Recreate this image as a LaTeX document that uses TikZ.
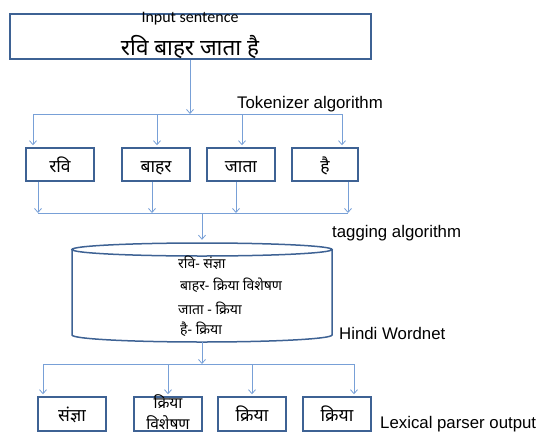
\documentclass[tikz,border=0pt]{standalone}
\usepackage{fontspec}
\setmainfont{Liberation Sans}
\newfontfamily\deva[Script=Devanagari]{Noto Sans}
\newfontfamily\calib{Carlito}
\usetikzlibrary{arrows.meta}
\definecolor{boxblue}{RGB}{62,98,148}
\definecolor{lineblue}{RGB}{120,160,215}
\begin{document}
\begin{tikzpicture}[x=1pt,y=-1pt,
  tbox/.style={draw=boxblue, line width=1.5pt, inner sep=0pt, minimum height=33pt, minimum width=68pt, text height=16pt, text depth=0pt, font=\deva\fontsize{17.5}{20}\selectfont},
  conn/.style={draw=lineblue, line width=0.8pt},
  arr/.style={conn, -{Straight Barb[length=4pt,width=7pt]}},
  lab/.style={anchor=west, inner sep=0pt, font=\fontsize{16.8}{19}\selectfont},
  wnl/.style={anchor=west, inner sep=0pt, font=\deva\fontsize{14}{16}\selectfont},
  cylb/.style={draw=boxblue, line width=1.5pt}]
\useasboundingbox (0,0) rectangle (543,434);
% top box
\node[draw=boxblue, line width=1.5pt, minimum width=361pt, minimum height=45pt, inner sep=0pt] (top) at (190.5,36.5) {};
\node[inner sep=0pt, font=\calib\fontsize{16}{18}\selectfont] (insent) at (190,19) {Input sentence};
\node[inner sep=0pt, anchor=base, font=\deva\fontsize{22.5}{26}\selectfont] (sent) at (190,55) {रवि बाहर जाता है};
% tokens
\node[tbox] (t1) at (60,164.5) {रवि};
\node[tbox] (t2) at (156,164.5) {बाहर};
\node[tbox] (t3) at (241,164.5) {जाता};
\node[tbox, minimum width=66pt] (t4) at (325,164.5) {है};
\node[lab] (tok) at (237,104) {Tokenizer algorithm};
% bus A
\coordinate (am) at (190,114);
\coordinate (a1) at (33,114);
\coordinate (a2) at (157,114);
\coordinate (a3) at (242,114);
\coordinate (a4) at (342,114);
\draw[arr] (top.south -| am) -- (am);
\draw[conn] (a1) -- (a4);
\draw[arr, shorten >=2pt] (a1) -- (t1.north -| a1);
\draw[arr, shorten >=2pt] (a2) -- (t2.north -| a2);
\draw[arr, shorten >=2pt] (a3) -- (t3.north -| a3);
\draw[arr, shorten >=2pt] (a4) -- (t4.north -| a4);
% bus B
\coordinate (c1) at (38,213);
\coordinate (c2) at (152,213);
\coordinate (c3) at (236,213);
\coordinate (c4) at (348,213);
\coordinate (cm) at (202,213);
\draw[arr] (t1.south -| c1) -- (c1);
\draw[arr] (t2.south -| c2) -- (c2);
\draw[arr] (t3.south -| c3) -- (c3);
\draw[arr] (t4.south -| c4) -- (c4);
\draw[conn] (c1) -- (c4);
% wordnet cylinder
\node[minimum width=260pt, minimum height=99pt, inner sep=0pt] (wn) at (202,292.5) {};
\draw[cylb] (72,249.5) -- (72,335) arc[start angle=180, end angle=360, x radius=130pt, y radius=7pt] -- (332,249.5);
\draw[cylb] (202,249.5) ellipse [x radius=130pt, y radius=6.5pt];
\draw[arr, shorten >=3pt] (cm) -- (wn.north);
\node[wnl] (w1) at (178,263) {रवि- संज्ञा};
\node[wnl] (w2) at (180,285) {बाहर- क्रिया विशेषण};
\node[wnl] (w3) at (178,308) {जाता - क्रिया};
\node[wnl] (w4) at (180,329) {है- क्रिया};
\node[lab] (tag) at (332,233) {tagging algorithm};
\node[lab] (hw) at (339,333) {Hindi Wordnet};
% bus C
\coordinate (dm) at (202,364);
\coordinate (d1) at (43,364);
\coordinate (d2) at (168,364);
\coordinate (d3) at (252,364);
\coordinate (d4) at (354,364);
\draw[arr] (wn.south) -- (dm);
\draw[conn] (d1) -- (d4);
% outputs
\node[tbox, minimum height=34pt, text height=15pt] (b1) at (72,414) {संज्ञा};
\node[tbox, minimum height=34pt] (b2) at (168,414) {};
\node[inner sep=0pt, font=\deva\fontsize{15.5}{18}\selectfont] (b2a) at (168,402) {क्रिया};
\node[inner sep=0pt, anchor=base, font=\deva\fontsize{15.5}{18}\selectfont] (b2b) at (168,429.5) {विशेषण};
\node[tbox, minimum height=34pt, text height=15pt] (b3) at (252,414) {क्रिया};
\node[tbox, minimum height=34pt, text height=15pt] (b4) at (337,414) {क्रिया};
\draw[arr, shorten >=2pt] (d1) -- (b1.north -| d1);
\draw[arr, shorten >=2pt] (d2) -- (b2.north -| d2);
\draw[arr, shorten >=2pt] (d3) -- (b3.north -| d3);
\draw[arr, shorten >=2pt] (d4) -- (b4.north -| d4);
\node[lab] (lex) at (380,424) {Lexical parser output};
\end{tikzpicture}
\end{document}
